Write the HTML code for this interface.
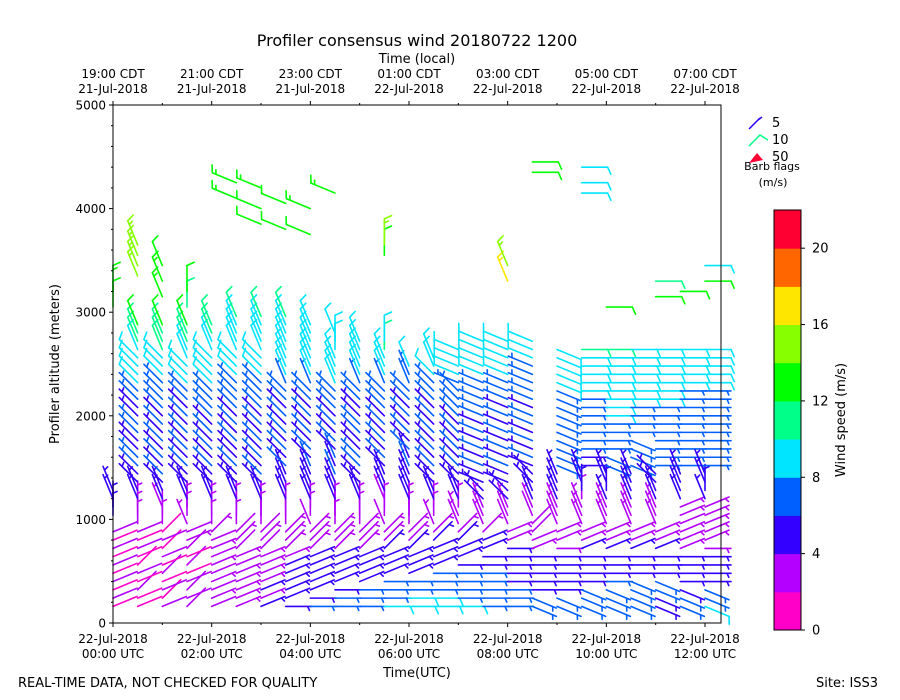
<!DOCTYPE html>
<html><head><meta charset="utf-8"><style>
html,body{margin:0;padding:0;background:#fff;}
svg{display:block;font-family:"DejaVu Sans","Liberation Sans",sans-serif;}
</style></head><body>
<svg id="chart" width="900" height="700" viewBox="0 0 900 700" xmlns="http://www.w3.org/2000/svg">
<text x="417" y="46" font-size="16" text-anchor="middle">Profiler consensus wind 20180722 1200</text>
<text x="417" y="63" font-size="13" text-anchor="middle">Time (local)</text>
<text transform="translate(59,364) rotate(-90)" font-size="13" text-anchor="middle">Profiler altitude (meters)</text>
<text x="417" y="677" font-size="13" text-anchor="middle">Time(UTC)</text>
<text x="18" y="687" font-size="13">REAL-TIME DATA, NOT CHECKED FOR QUALITY</text>
<text x="816" y="687" font-size="13">Site: ISS3</text>
<g id="barbs"></g>
<g id="axes"></g>
<g id="legend">
 <line x1="749" y1="129" x2="760" y2="118" stroke="#3300ff" stroke-width="1.5"/><line x1="758" y1="120" x2="762" y2="117" stroke="#3300ff" stroke-width="1.5"/>
 <text x="772" y="127" font-size="13">5</text>
 <polyline points="749,146 760,135 768,140" fill="none" stroke="#00ff88" stroke-width="1.5"/>
 <text x="772" y="144" font-size="13">10</text>
 <polygon points="749,163 757,153 763,160" fill="#ff0033"/>
 <text x="772" y="161" font-size="13">50</text>
 <text x="772" y="170" font-size="11" text-anchor="middle">Barb flags</text>
 <text x="773" y="186" font-size="11" text-anchor="middle">(m/s)</text>
</g>
<g id="cbar"></g>
<text transform="translate(845,420) rotate(-90)" font-size="13" text-anchor="middle">Wind speed (m/s)</text>
</svg>
<script>
// ---- data ----
const columnTimes = [0,0.5,1,1.5,2,2.5,3,3.5,4,4.5,5,5.5,6,6.5,7,7.5,8,8.5,9,9.5,10,10.5,11,11.5,12];
const levelStart = 160, levelStep = 80; // altitude levels (m)
// speed per level, base36 char (m/s); '-' = missing
const speedRows = [
"1212121212 -44 55 ------------ ---- -----",
"1121211212 333 44 556655665566 8889 9aac-",
"2121212121 323 45 565656565666 7889 aabc-",
"2222121232 333 45 556565656566 8889 9abc-",
"2323232323 333 44 556565656667 8899 99ab-",
"3333323232 323 45 556556565666 7889 9999a",
"4343333232 233 45 565656565666 7888 9999a",
"5454443333 223 44 556565656566 7888 9999a",
"6555444333 233 44 556565656567 7888 9999-",
"6655444333 323 45 565656565667 8888 999--",
"7665544333 233 44 556655665566 7888 99---",
"8766554433 223 34 455656565667 7888 a9---",
"8876554433 233 44 556565656566 778- -----",
"8877655443 333 45 556565656566 7889 -----",
"8776655443 333 45 556565656667 7888 9----",
"7766655443 333 44 556565656667 7888 99---",
"7665554433 233 44 556565656566 7888 99---",
"6655544322 223 44 555656566566 6778 89---",
"6655544333 233 44 556666667777 8888 8----",
"7665554433 333 34 455566667778 8899 a----",
"7766554433 333 44 556666778889 9999 a----",
"6666554433 333 44 556666677788 8889 9----",
"5566554433 333 44 556666667788 8899 9----",
"6655544333 233 44 556666677777 8888 9----",
"8765544333 333 44 556666666777 8888 8----"];
// staff direction code per level (A=up, E=right, I=down, M=left, 22.5deg steps)
const dirRows = [
"DDDDDDDDDD -AA PP ------------ ---- -----",
"DDCDDCDDDD AAA PP OOOOOOOOOOOO OOOO PPPP-",
"DCDDCDDCDC AAP PP OOOOOOOOOOOO OOOO PPPP-",
"CDCDDCDCDD PAA PP OOOOOOOOOOOO OOOP PPPP-",
"DDDDDDDDDC AAA PP OOOOOOOOOOOO OOOO PPPP-",
"DDDDDDDCCC AAA PP OOOOOOOOOOOO OOOO PPPPP",
"DDDDDDDCCC AAA PP OOOOOOOOOOOO OOOO PPPPP",
"EDDDDDDCCC AAA PP PPOOOOOOOOOO PPPP PPPPP",
"EEDDDDDCCC PAA PP PPPOOOOOOOOO PPPP PPPP-",
"EEEDDDDCCC AAA PP PPPPOOOOOOOO PPPP AAP--",
"EEEDDDDCCC AAA PP OOOOOOOOOOOO PPPP PP---",
"EEEEDDDCCC PAA PP PPOOOOOOOOOO PPPP AA---",
"EEEEDDDCCC AAA PP PPPPOOOOOOOO PPP- -----",
"EEEEEDDDCC PAA PP OOOOOOOOOOOO OOPP -----",
"EEEEEEDDCC PPA PP OOOOOOOOOOOO NNNN N----",
"EEEEEEEDDC PPP OO NNNNNNNNNNNN NNNN NN---",
"EEEEEEEEDD PPP OO NNNNNNNNNNNN NNNN NN---",
"FFEEEEEDDC CPP PP OONNNNNNNNNN NNNN NN---",
"FFEEEEEEDD PPP PP PPFFFFFFFFFF FFFF F----",
"FFFEEEEDDD PPP AA PPEEEEEEEEEE EEEE E----",
"FFFEEEEDDD PPP PA PPFFEEEEEEEE EEEE E----",
"FFFFEEEDDD PPP PP PPFFFFEEEEEE EEEE E----",
"FFFFEEEDDD PPP PP OOEEEEEEEEEE EEEE E----",
"FFFEEEEDDD DDD PP PPEEEEEEEEEE EEEE E----",
"FFFEEEEEDD DDD PA PPEEEEEEEEEE EEEE E----"];
// sparse upper-level barbs
const upperTimes  = [0,0,0.5,0.5,0.5,0.5,1,1,1,1.5,1.5,2.5,2.5,3,3,3,3.5,3.5,4,4,4.5,5.5,5.5,8,8,8.5,8.5,9.5,9.5,9.5,10,11,11,11.5,12,12];
const upperHeights= [3050,3200,3350,3450,3550,3650,3150,3300,3450,3050,3200,4100,4250,3850,4000,4200,3800,4050,3750,4000,4150,3550,3650,3300,3450,4350,4450,4150,4250,4400,3050,3150,3300,3200,3300,3450];
const upperSpeeds = [12,13,14,15,15,14,13,13,12,11,12,13,13,12,12,13,12,12,12,13,13,12,14,16,15,12,12,9,9,9,12,12,11,12,12,9];
const upperDirs   = "AAPPPPPPPAANNNNNNNNNNAAPPEEEEEEEEEEE";
const cbTicks = [0,4,8,12,16,20];
const yTicks = [0,1000,2000,3000,4000,5000];
const bottomLabels = [["22-Jul-2018","00:00 UTC"],["22-Jul-2018","02:00 UTC"],["22-Jul-2018","04:00 UTC"],["22-Jul-2018","06:00 UTC"],["22-Jul-2018","08:00 UTC"],["22-Jul-2018","10:00 UTC"],["22-Jul-2018","12:00 UTC"]];
const topLabels = [["19:00 CDT","21-Jul-2018"],["21:00 CDT","21-Jul-2018"],["23:00 CDT","21-Jul-2018"],["01:00 CDT","22-Jul-2018"],["03:00 CDT","22-Jul-2018"],["05:00 CDT","22-Jul-2018"],["07:00 CDT","22-Jul-2018"]];
const labelHours = [0,2,4,6,8,10,12];
const colors = ["#ff00c8","#b300ff","#3300ff","#0060ff","#00e5ff","#00ff88","#00ff00","#88ff00","#ffe600","#ff6600","#ff0033"];

// ---- scales ----
const X0=113,X1=721,Y0=623,Y1=105;
const xs = h => X0 + h*(705-113)/12;
const ys = a => Y0 - a*(Y0-Y1)/5000;
const NS="http://www.w3.org/2000/svg";
function mk(tag, attrs, parent){const e=document.createElementNS(NS,tag);for(const k in attrs)e.setAttribute(k,attrs[k]);parent.appendChild(e);return e;}
const colorFor = s => colors[Math.max(0,Math.min(10,Math.floor(s/2)))];

const barbG=document.getElementById('barbs');
function barb(t,h,s,code){
  const th=(code.charCodeAt(0)-65)*22.5*Math.PI/180;
  const dx=Math.sin(th), dy=-Math.cos(th);
  const bx=xs(t), by=ys(h), L=26;
  const ex=bx+L*dx, ey=by+L*dy;
  const c=colorFor(s);
  const g=mk('g',{stroke:c,'stroke-width':1.6,'stroke-linecap':'round',fill:'none'},barbG);
  
  
  mk('line',{x1:bx,y1:by,x2:ex,y2:ey},g);
  const n5=Math.round(s/5); const full=Math.floor(n5/2), half=n5%2;
  const px=-dy, py=dx;
  let d=0;
  for(let i=0;i<full;i++){const sx=ex-dx*d, sy=ey-dy*d;mk('line',{x1:sx,y1:sy,x2:sx+8*(px*0.9+dx*0.4),y2:sy+8*(py*0.9+dy*0.4)},g);d+=4;}
  if(half){if(d===0)d=4;const sx=ex-dx*d, sy=ey-dy*d;mk('line',{x1:sx,y1:sy,x2:sx+4.5*(px*0.9+dx*0.4),y2:sy+4.5*(py*0.9+dy*0.4)},g);}
}
columnTimes.forEach((t,ci)=>{
  const sp=speedRows[ci].replace(/ /g,''), dr=dirRows[ci].replace(/ /g,'');
  for(let i=0;i<sp.length;i++){
    if(sp[i]==='-'||dr[i]==='-')continue;
    barb(t, levelStart+i*levelStep, parseInt(sp[i],36), dr[i]);
  }
});
upperTimes.forEach((t,i)=>barb(t,upperHeights[i],upperSpeeds[i],upperDirs[i]));

// ---- axes ----
const ax=document.getElementById('axes');
const frame=mk('rect',{x:X0,y:Y1,width:X1-X0,height:Y0-Y1,fill:'none',stroke:'#000','stroke-width':1},ax);


for(let a=0;a<=5000;a+=200){const y=ys(a);const major=a%1000===0;mk('line',{x1:X0,y1:y,x2:X0-(major?4:2),y2:y,stroke:'#000'},ax);}
yTicks.forEach(a=>{const t=mk('text',{x:X0-7,y:ys(a)+4.5,'font-size':12,'text-anchor':'end'},ax);t.textContent=a;
  
  });
labelHours.forEach((h,i)=>{
  const x=xs(h);
  mk('line',{x1:x,y1:Y0,x2:x,y2:Y0+4,stroke:'#000'},ax);
  mk('line',{x1:x,y1:Y1,x2:x,y2:Y1-4,stroke:'#000'},ax);
  const b1=mk('text',{x:x,y:643,'font-size':12,'text-anchor':'middle'},ax);b1.textContent=bottomLabels[i][0];
  
  
  const b2=mk('text',{x:x,y:658,'font-size':12,'text-anchor':'middle'},ax);b2.textContent=bottomLabels[i][1];
  
  
  const t1=mk('text',{x:x,y:78,'font-size':12,'text-anchor':'middle'},ax);t1.textContent=topLabels[i][0];
  
  
  const t2=mk('text',{x:x,y:93,'font-size':12,'text-anchor':'middle'},ax);t2.textContent=topLabels[i][1];
  
  
});
for(let h=1;h<12.4;h+=2){const x=xs(h);mk('line',{x1:x,y1:Y0,x2:x,y2:Y0+2,stroke:'#000'},ax);mk('line',{x1:x,y1:Y1,x2:x,y2:Y1-2,stroke:'#000'},ax);}

// ---- colorbar ----
const cb=document.getElementById('cbar');
const CX=774,CW=27,CT=210,CB=630,vmax=22;
const cy=v=>CB-v*(CB-CT)/vmax;
colors.forEach((c,i)=>{const r=mk('rect',{x:CX,y:cy((i+1)*2),width:CW,height:cy(i*2)-cy((i+1)*2)+0.5,fill:c},cb);
  
  });
mk('rect',{x:CX,y:CT,width:CW,height:CB-CT,fill:'none',stroke:'#000'},cb);
cbTicks.forEach(v=>{mk('line',{x1:CX+CW,y1:cy(v),x2:CX+CW+4,y2:cy(v),stroke:'#000'},cb);
  const t=mk('text',{x:CX+CW+11,y:cy(v)+4.5,'font-size':13},cb);t.textContent=v;
  
  });
</script>
</body></html>
